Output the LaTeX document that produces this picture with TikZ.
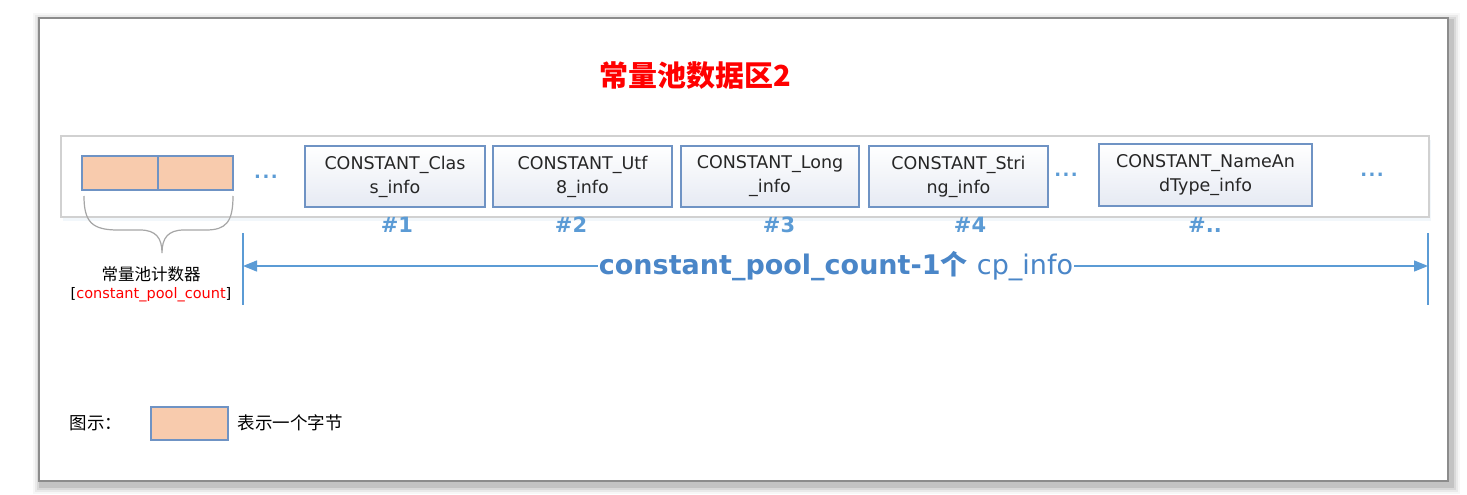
\documentclass[tikz,border=0pt]{standalone}
\usepackage{fontspec}
\setmainfont{DejaVu Sans}
\newfontfamily\cjk{Noto Sans CJK SC}
\newfontfamily\tah{DejaVu Sans}
\usetikzlibrary{arrows.meta}
\definecolor{boxblue}{HTML}{6F93C4}
\definecolor{boxbot}{HTML}{E6EAF3}
\definecolor{cellfill}{HTML}{F8CBAD}
\definecolor{lblue}{HTML}{5B9BD5}
\definecolor{tblue}{HTML}{4A86C8}
\definecolor{tred}{HTML}{FF0000}
\tikzset{
  infobox/.style={draw=boxblue, line width=1.2pt, top color=white, bottom color=boxbot, align=center,
    font=\fontsize{17.5}{24}\selectfont, inner sep=0pt, text=black!85},
  cell/.style={draw=boxblue, line width=1.2pt, fill=cellfill, inner sep=0pt, minimum height=34pt},
  idx/.style={text=lblue, font=\fontsize{21}{23}\selectfont\bfseries},
  dots/.style={text=lblue, font=\fontsize{18}{20}\selectfont\bfseries},
  bline/.style={draw=lblue, line width=1.3pt},
}
\begin{document}
\begin{tikzpicture}[x=1pt,y=-1pt]
\useasboundingbox (0,0) rectangle (1467,495);
% outer frame with shadow
\foreach \i/\o in {9/0.03,7/0.05,5/0.07,3/0.1}{
  \fill[black,opacity=\o] (39-\i+3,18-\i+4) rectangle (1448+\i+3,481+\i+4);
}
\draw[fill=white,draw=black!45,line width=2.5pt] (39,18) rectangle (1448,481);
% title
\node (title) at (695,76) {\cjk\fontsize{29}{32}\selectfont\bfseries\color{tred}常量池数据区2};
% container
\fill[lblue!15,opacity=0.5] (63,140) rectangle (1431,221);
\draw[draw=black!18,fill=white,line width=1.5pt] (61,136) rectangle (1429,217);
% cells
\node[cell, minimum width=76pt] (c1) at (120,173) {};
\node[cell, minimum width=75pt] (c2) at (195.5,173) {};
\node[dots] (d1) at (266,177) {.\kern1.5pt.\kern1.5pt.};
% info boxes
\node[infobox, minimum width=180pt, minimum height=61pt] (b1) at (395,176.5) {CONSTANT\_Clas\\s\_info};
\node[infobox, minimum width=179pt, minimum height=61pt] (b2) at (582.5,176.5) {CONSTANT\_Utf\\8\_info};
\node[infobox, minimum width=178pt, minimum height=61pt] (b3) at (770,176.5) {CONSTANT\_Long\\\_info};
\node[infobox, minimum width=179pt, minimum height=61pt] (b4) at (958.5,176.5) {CONSTANT\_Stri\\ng\_info};
\node[dots] (d2) at (1066,175) {.\kern1.5pt.\kern1.5pt.};
\node[infobox, minimum width=213pt, minimum height=62pt] (b5) at (1205.5,175) {CONSTANT\_NameAn\\dType\_info};
\node[dots] (d3) at (1372,175) {.\kern1.5pt.\kern1.5pt.};
% indices
\node[idx] (i1) at (397,225) {\#1};
\node[idx] (i2) at (571,225) {\#2};
\node[idx] (i3) at (779,225) {\#3};
\node[idx] (i4) at (970,225) {\#4};
\node[idx] (i5) at (1205,225) {\#..};
% brace
\draw[black!35,line width=1.2pt] (84,196) .. controls (84,222) and (92,230) .. (118,230)
  -- (140,230) .. controls (156,230) and (162,238) .. (162,253)
  .. controls (162,238) and (168,230) .. (184,230) -- (206,230)
  .. controls (226,230) and (233,222) .. (233,196);
\node[align=center] (cntlbl) at (151,284) {{\cjk\fontsize{16.5}{18}\selectfont 常量池计数器}\\[5pt]
  {\tah\fontsize{14.5}{17}\selectfont [\textcolor{tred}{constant\_pool\_count}]}};
% arrow
\coordinate (Lt) at (243,233); \coordinate (Lb) at (243,305);
\coordinate (Rt) at (1428,233); \coordinate (Rb) at (1428,305);
\coordinate (L) at (243,266); \coordinate (R) at (1428,266);
\draw[bline] (Lt) -- (Lb);
\draw[bline] (Rt) -- (Rb);
\draw[bline, {Triangle[length=14pt,width=11pt]}-{Triangle[length=14pt,width=11pt]}] (L) -- (R);
\node[fill=white, inner xsep=1pt, text=tblue] (alabel) at (836,266)
  {\fontsize{27}{30}\selectfont\bfseries constant\_pool\_count-1{\cjk 个} \mdseries cp\_info};
% legend
\node[anchor=west] (leg) at (66,423) {\cjk\fontsize{17.5}{19}\selectfont 图示：};
\node[draw=boxblue, line width=1.2pt, fill=cellfill, minimum width=77pt, minimum height=33pt, inner sep=0pt] (legbox) at (189.5,423.5) {};
\node[anchor=west] (legt) at (234,423) {\cjk\fontsize{17.5}{19}\selectfont 表示一个字节};
\end{tikzpicture}
\end{document}
